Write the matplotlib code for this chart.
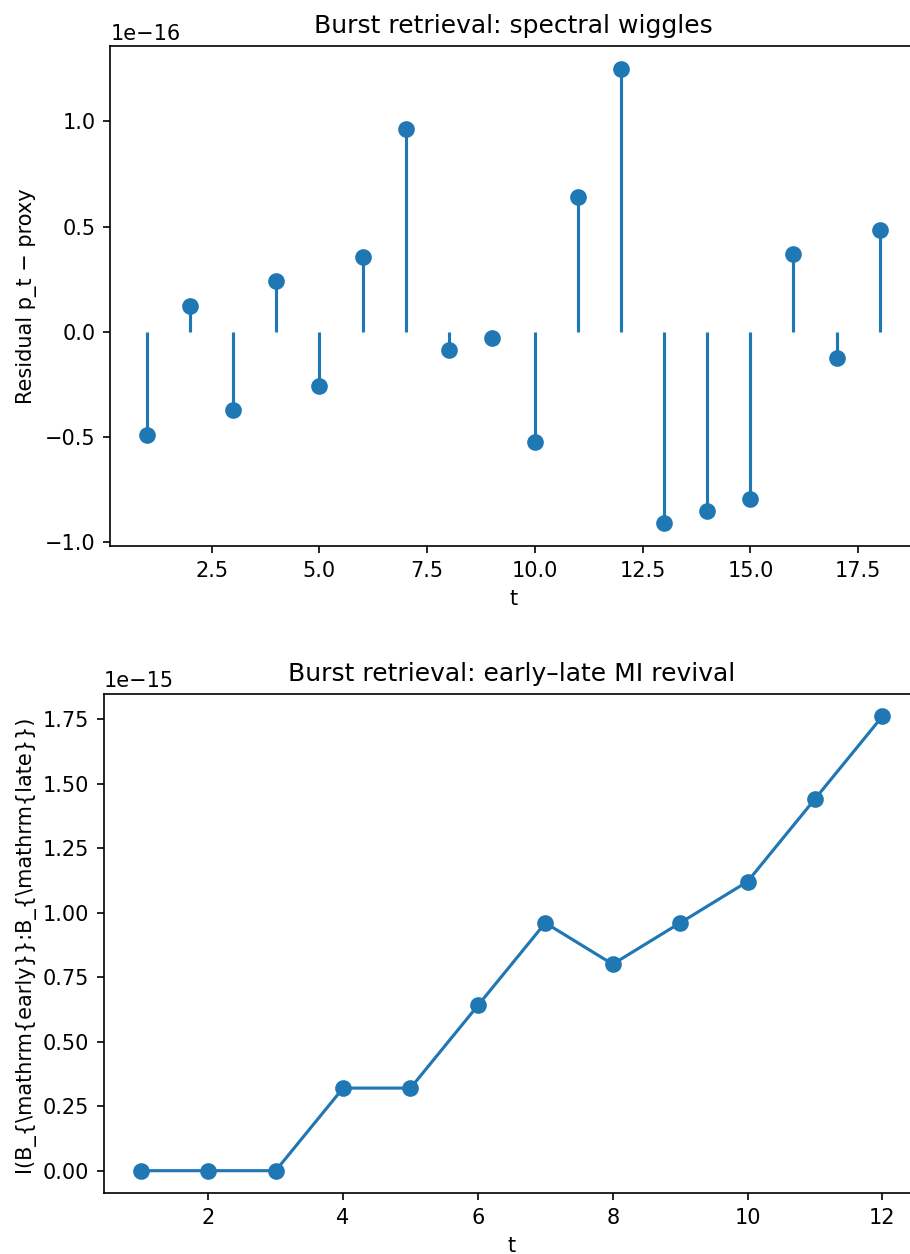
import numpy as np
import matplotlib
matplotlib.use("Agg")
import matplotlib.pyplot as plt

# residuals of p_t against the proxy (units of 1e-16)
t_resid = [1, 2, 3, 4, 5, 6, 7, 8, 9, 10, 11, 12, 13, 14, 15, 16, 17, 18]
resid_e16 = [-0.488, 0.123, -0.369, 0.241, -0.256, 0.355, 0.966, -0.084, -0.030,
             -0.524, 0.640, 1.251, -0.909, -0.850, -0.793, 0.372, -0.122, 0.486]

# early-late mutual information (units of 1e-15)
t_mi = [1, 2, 3, 4, 5, 6, 7, 8, 9, 10, 11, 12]
mi_e15 = [0.0, 0.0, 0.0, 0.32, 0.32, 0.64, 0.96, 0.80, 0.96, 1.12, 1.44, 1.76]

W, H, DPI = 910, 1254, 150
fig = plt.figure(figsize=(W / DPI, H / DPI), dpi=DPI)


def px_axes(left, top, right, bottom):
    return fig.add_axes([left / W, 1 - bottom / H, (right - left) / W, (bottom - top) / H])


ax1 = px_axes(110.4, 45.8, 916.3, 546.0)
resid = np.array(resid_e16) * 1e-16
markerline, stemlines, baseline = ax1.stem(t_resid, resid, basefmt=" ")
markerline.set_markersize(7)
ax1.set_title("Burst retrieval: spectral wiggles")
ax1.set_xlabel("t")
ax1.set_ylabel("Residual p_t \u2212 proxy")

ax2 = px_axes(103.8, 693.7, 919.4, 1193.4)
mi = np.array(mi_e15) * 1e-15
ax2.plot(t_mi, mi, marker="o", markersize=7)
ax2.set_title("Burst retrieval: early\u2013late MI revival")
ax2.set_xlabel("t")
ax2.set_ylabel("I(B_{\\mathrm{early}}:B_{\\mathrm{late}})")

fig.savefig("out.png", dpi=DPI)
